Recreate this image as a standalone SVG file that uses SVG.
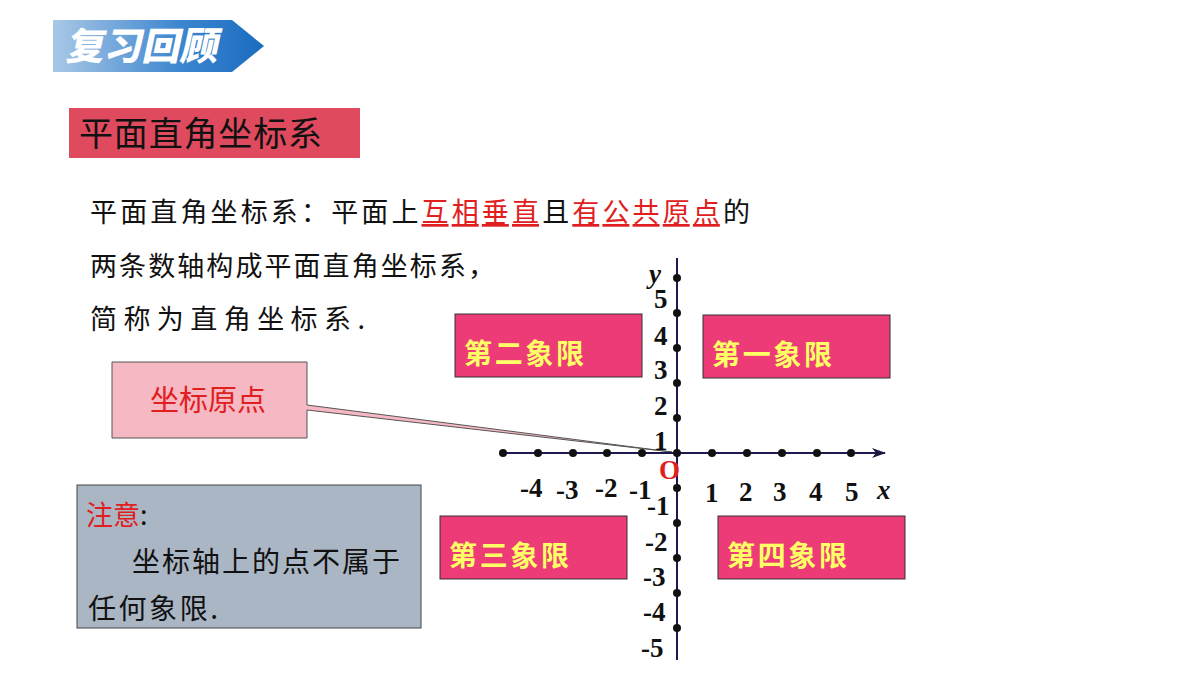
<svg xmlns="http://www.w3.org/2000/svg" width="1200" height="675" viewBox="0 0 1200 675">
<defs>
<linearGradient id="bg" x1="0" y1="0" x2="1" y2="0"><stop offset="0" stop-color="#a9c8e6"/><stop offset="0.6" stop-color="#3d86cf"/><stop offset="1" stop-color="#1a6cc0"/></linearGradient>
<marker id="ar" markerWidth="14" markerHeight="10" refX="13" refY="5" orient="auto" markerUnits="userSpaceOnUse"><path d="M0,0 L14,5 L0,10 L4,5 Z" fill="#1a1a40"/></marker>
</defs>
<style>
.q{fill:#ec3b77;stroke:#333;stroke-width:1}
.qt{font-family:"Noto Sans CJK SC",sans-serif;font-weight:bold;font-size:28px;fill:#ffff66}
.b{font-family:"Liberation Serif",serif;font-weight:bold;font-size:27px;fill:#111}
.d{fill:#111}
</style>
<rect width="1200" height="675" fill="#fff"/>
<g id="title"><path d="M53,20 H232 L264,46 L232,72 H53 Z" fill="url(#bg)"/>
<text x="68" y="60" font-family="Noto Sans CJK SC,sans-serif" font-weight="900" font-size="38" fill="#fff" transform="skewX(-12) translate(10,0)" textLength="152">复习回顾</text></g>
<g id="head"><rect x="69" y="108" width="291" height="50" fill="#e04a5f"/>
<text x="79" y="146" font-family="Noto Sans CJK SC,sans-serif" font-size="34" fill="#111" textLength="243">平面直角坐标系</text></g>
<g id="def" font-family="Noto Sans CJK SC,sans-serif" font-size="27" fill="#111">
<text x="90" y="222" textLength="660">平面直角坐标系：平面上<tspan fill="#e02020" text-decoration="underline">互相垂直</tspan>且<tspan fill="#e02020" text-decoration="underline">有公共原点</tspan>的</text>
<text x="90" y="276" textLength="405">两条数轴构成平面直角坐标系，</text>
<text x="90" y="329" textLength="275">简称为直角坐标系.</text>
</g>
<g id="callout"><path d="M112,362 H307 V405 L672,452 L307,410 V438 H112 Z" fill="#f6b8c2" stroke="#555" stroke-width="1"/>
<text x="150" y="411" font-family="Noto Sans CJK SC,sans-serif" font-size="29" fill="#e02020">坐标原点</text></g>
<g id="note"><rect x="77" y="485" width="344" height="143" fill="#aab6c4" stroke="#444"/>
<text x="86" y="525" font-family="Noto Sans CJK SC,sans-serif" font-size="27" fill="#e02020">注意<tspan fill="#111">:</tspan></text>
<text x="132" y="572" font-family="Noto Sans CJK SC,sans-serif" font-size="28" fill="#111" textLength="268">坐标轴上的点不属于</text>
<text x="88" y="619" font-family="Noto Sans CJK SC,sans-serif" font-size="28" fill="#111" textLength="130">任何象限.</text></g>
<g id="q2"><rect class="q" x="455" y="314" width="187" height="63"/><text class="qt" x="464" y="364" textLength="120">第二象限</text></g>
<g id="q1"><rect class="q" x="703" y="315" width="187" height="63"/><text class="qt" x="712" y="365" textLength="120">第一象限</text></g>
<g id="q3"><rect class="q" x="440" y="516" width="187" height="63"/><text class="qt" x="449" y="566" textLength="120">第三象限</text></g>
<g id="q4"><rect class="q" x="718" y="516" width="187" height="63"/><text class="qt" x="727" y="566" textLength="120">第四象限</text></g>
<g id="axes" stroke="#1a1a50" stroke-width="2">
<line x1="500" y1="453" x2="885" y2="453" marker-end="url(#ar)"/>
<line x1="677" y1="660" x2="677" y2="258"/>
</g>
<g id="dots" class="d">
<circle cx="503" cy="453" r="4"/><circle cx="538" cy="453" r="4"/><circle cx="573" cy="453" r="4"/><circle cx="607" cy="453" r="4"/><circle cx="642" cy="453" r="4"/><circle cx="677" cy="453" r="4"/><circle cx="712" cy="453" r="4"/><circle cx="747" cy="453" r="4"/><circle cx="782" cy="453" r="4"/><circle cx="817" cy="453" r="4"/><circle cx="851" cy="453" r="4"/>
<circle cx="677" cy="278" r="4"/><circle cx="677" cy="313" r="4"/><circle cx="677" cy="348" r="4"/><circle cx="677" cy="383" r="4"/><circle cx="677" cy="418" r="4"/>
<circle cx="677" cy="488" r="4"/><circle cx="677" cy="523" r="4"/><circle cx="677" cy="558" r="4"/><circle cx="677" cy="593" r="4"/><circle cx="677" cy="628" r="4"/>
</g>
<g id="labels" class="b">
<text x="649" y="283" font-style="italic">y</text>
<text x="654" y="308">5</text><text x="654" y="345">4</text><text x="654" y="379">3</text><text x="654" y="415">2</text><text x="654" y="450">1</text>
<text x="659" y="479" fill="#e02020">O</text>
<text x="520" y="497">-4</text><text x="556" y="499">-3</text><text x="595" y="497">-2</text><text x="629" y="499">-1</text>
<text x="705" y="502">1</text><text x="739" y="501">2</text><text x="773" y="501">3</text><text x="809" y="501">4</text><text x="845" y="501">5</text>
<text x="877" y="499" font-style="italic">x</text>
<text x="647" y="515">-1</text><text x="645" y="551">-2</text><text x="643" y="586">-3</text><text x="643" y="621">-4</text><text x="641" y="657">-5</text>
</g>
</svg>
